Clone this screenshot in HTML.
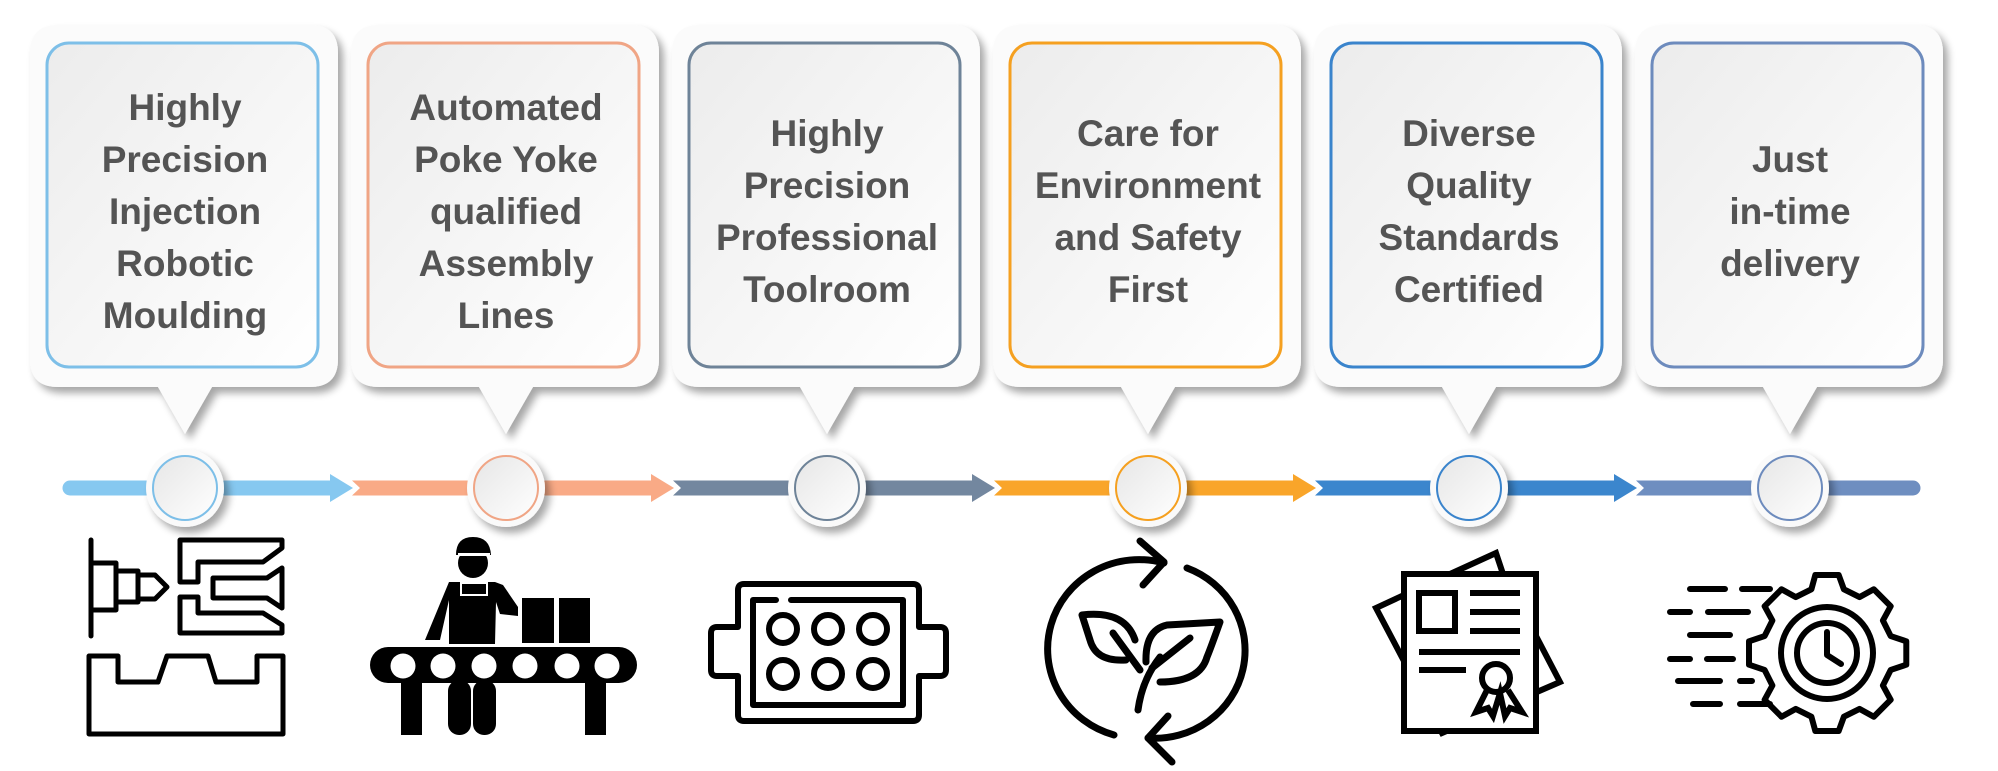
<!DOCTYPE html>
<html><head><meta charset="utf-8"><style>
html,body{margin:0;padding:0;background:#fff;}
svg{display:block}
text{font-family:"Liberation Sans",Arial,sans-serif;font-weight:bold;font-size:37px;fill:#545454;text-anchor:middle}
</style></head><body>
<svg width="1998" height="771" viewBox="0 0 1998 771" xmlns="http://www.w3.org/2000/svg">
<defs>
<filter id="sh" x="-10%" y="-10%" width="130%" height="130%">
<feGaussianBlur in="SourceAlpha" stdDeviation="4"/><feOffset dx="5" dy="6"/>
<feComponentTransfer><feFuncA type="linear" slope="0.35"/></feComponentTransfer>
<feMerge><feMergeNode/><feMergeNode in="SourceGraphic"/></feMerge></filter>
<linearGradient id="g" x1="0" y1="0" x2="1" y2="1"><stop offset="0" stop-color="#ececec"/><stop offset="1" stop-color="#ffffff"/></linearGradient>
<linearGradient id="gc" x1="0" y1="0" x2="1" y2="1"><stop offset="0" stop-color="#e6e6e6"/><stop offset="1" stop-color="#ffffff"/></linearGradient>
<g id="card">
<path d="M58 25 H310 Q338 25 338 53 V359 Q338 387 310 387 H212 L185 434 L158 387 H58 Q30 387 30 359 V53 Q30 25 58 25 Z" fill="#fbfbfb" filter="url(#sh)"/>
</g>
</defs>

<!-- cards -->
<g><use href="#card"/><rect x="47" y="43" width="271" height="324" rx="22" fill="url(#g)" stroke="#7dbfe8" stroke-width="3"/></g>
<g transform="translate(321,0)"><use href="#card"/><rect x="47" y="43" width="271" height="324" rx="22" fill="url(#g)" stroke="#f0a585" stroke-width="3"/></g>
<g transform="translate(642,0)"><use href="#card"/><rect x="47" y="43" width="271" height="324" rx="22" fill="url(#g)" stroke="#6e8398" stroke-width="3"/></g>
<g transform="translate(963,0)"><use href="#card"/><rect x="47" y="43" width="271" height="324" rx="22" fill="url(#g)" stroke="#f5a020" stroke-width="3"/></g>
<g transform="translate(1284,0)"><use href="#card"/><rect x="47" y="43" width="271" height="324" rx="22" fill="url(#g)" stroke="#3a84cc" stroke-width="3"/></g>
<g transform="translate(1605,0)"><use href="#card"/><rect x="47" y="43" width="271" height="324" rx="22" fill="url(#g)" stroke="#6d8bbd" stroke-width="3"/></g>

<!-- texts -->
<text x="185" y="120">Highly</text><text x="185" y="172">Precision</text><text x="185" y="224">Injection</text><text x="185" y="276">Robotic</text><text x="185" y="328">Moulding</text>
<text x="506" y="120">Automated</text><text x="506" y="172">Poke Yoke</text><text x="506" y="224">qualified</text><text x="506" y="276">Assembly</text><text x="506" y="328">Lines</text>
<text x="827" y="146">Highly</text><text x="827" y="198">Precision</text><text x="827" y="250">Professional</text><text x="827" y="302">Toolroom</text>
<text x="1148" y="146">Care for</text><text x="1148" y="198">Environment</text><text x="1148" y="250">and Safety</text><text x="1148" y="302">First</text>
<text x="1469" y="146">Diverse</text><text x="1469" y="198">Quality</text><text x="1469" y="250">Standards</text><text x="1469" y="302">Certified</text>
<text x="1790" y="172">Just</text><text x="1790" y="224">in-time</text><text x="1790" y="276">delivery</text>

<!-- timeline -->
<line x1="70" y1="488" x2="335" y2="488" stroke="#86c8f0" stroke-width="15" stroke-linecap="round"/>
<polygon points="330,474 353,488 330,502" fill="#86c8f0"/>
<polygon points="352,480.5 656,480.5 656,495.5 352,495.5 360,488" fill="#f9aa86"/>
<polygon points="651,474 674,488 651,502" fill="#f9aa86"/>
<polygon points="673,480.5 977,480.5 977,495.5 673,495.5 681,488" fill="#73879f"/>
<polygon points="972,474 995,488 972,502" fill="#73879f"/>
<polygon points="994,480.5 1298,480.5 1298,495.5 994,495.5 1002,488" fill="#f9a52a"/>
<polygon points="1293,474 1316,488 1293,502" fill="#f9a52a"/>
<polygon points="1315,480.5 1619,480.5 1619,495.5 1315,495.5 1323,488" fill="#3b86cd"/>
<polygon points="1614,474 1637,488 1614,502" fill="#3b86cd"/>
<polygon points="1636,480.5 1913,480.5 1913,495.5 1636,495.5 1644,488" fill="#6e8ec0"/>
<circle cx="1913" cy="488" r="7.5" fill="#6e8ec0"/>

<!-- markers -->
<g filter="url(#sh)">
<circle cx="185" cy="488" r="39" fill="#fafafa"/><circle cx="506" cy="488" r="39" fill="#fafafa"/><circle cx="827" cy="488" r="39" fill="#fafafa"/>
<circle cx="1148" cy="488" r="39" fill="#fafafa"/><circle cx="1469" cy="488" r="39" fill="#fafafa"/><circle cx="1790" cy="488" r="39" fill="#fafafa"/>
</g>
<g fill="url(#gc)" stroke-width="2">
<circle cx="185" cy="488" r="32" stroke="#7dbfe8"/><circle cx="506" cy="488" r="32" stroke="#f0a585"/><circle cx="827" cy="488" r="32" stroke="#6e8398"/>
<circle cx="1148" cy="488" r="32" stroke="#f5a020"/><circle cx="1469" cy="488" r="32" stroke="#3a84cc"/><circle cx="1790" cy="488" r="32" stroke="#6d8bbd"/>
</g>

<!-- icon 1 -->
<g fill="none" stroke="#000" stroke-width="5" stroke-linejoin="round" stroke-linecap="round">
<line x1="91" y1="540" x2="91" y2="636"/>
<rect x="91" y="563" width="25" height="47"/>
<rect x="116" y="571" width="22" height="31"/>
<path d="M138 575 L155 575 L167 587 L155 599 L138 599"/>
<path d="M180 540 L282 540 L282 548 L263 562 L198 562 L198 582 L180 582 Z"/>
<path d="M213 578 L267 578 L282 568 L282 608 L267 598 L213 598 Z"/>
<path d="M180 597 L198 597 L198 613 L263 613 L282 625 L282 633 L180 633 Z"/>
<path d="M89 656 H118 V682 H158 L167 656 H208 L216 682 H257 V656 H283 V734 H89 Z"/>
</g>

<!-- icon 2 -->
<g fill="#000">
<rect x="370" y="647" width="267" height="36" rx="18"/>
<rect x="401" y="680" width="21" height="55"/><rect x="585" y="680" width="21" height="55"/>
<rect x="448" y="680" width="23" height="55" rx="11"/><rect x="473" y="680" width="23" height="55" rx="11"/>
<path d="M449 582 L495 582 L503 585 L518 607 L518 616 L500 614 L496 602 L495 644 L449 644 L449 600 L440 640 L425 640 Z"/>
<rect x="522" y="598" width="32" height="45"/><rect x="559" y="598" width="31" height="45"/>
<circle cx="473" cy="563" r="15"/>
<path d="M456 555 Q456 537 473 537 Q490 537 491 555 Z"/>
</g>
<rect x="458" y="553" width="32" height="3" fill="#fff"/>
<rect x="461" y="583" width="26" height="12" fill="none" stroke="#fff" stroke-width="2"/>
<g fill="#fff"><circle cx="403" cy="666" r="12.5"/><circle cx="443" cy="666" r="12.5"/><circle cx="484" cy="666" r="12.5"/><circle cx="525" cy="666" r="12.5"/><circle cx="567" cy="666" r="12.5"/><circle cx="607" cy="666" r="12.5"/></g>

<!-- icon 3 -->
<g fill="none" stroke="#000" stroke-width="6" stroke-linejoin="round" stroke-linecap="round">
<path d="M744 584 H913 Q919 584 919 590 V627 H940 Q946 627 946 633 V670 Q946 676 940 676 H919 V715 Q919 721 913 721 H744 Q738 721 738 715 V676 H717 Q711 676 711 670 V633 Q711 627 717 627 H738 V590 Q738 584 744 584 Z"/>
<path d="M776 600 H753 V705 H903 V600 H791"/>
<circle cx="783" cy="629" r="14"/><circle cx="828" cy="629" r="14"/><circle cx="873" cy="629" r="14"/>
<circle cx="783" cy="674" r="14"/><circle cx="828" cy="674" r="14"/><circle cx="873" cy="674" r="14"/>
</g>

<!-- icon 4 -->
<g fill="none" stroke="#000" stroke-width="7" stroke-linecap="round" stroke-linejoin="round">
<path d="M1114 735 A90 88 0 0 1 1164 563"/>
<path d="M1140 541 L1164 562 L1143 585"/>
<path d="M1187 568 A90 88 0 0 1 1148 738"/>
<path d="M1172 762 L1148 738 L1168 716"/>
<path d="M1138 710 Q1142 680 1160 657"/>
<path d="M1126 660 Q1096 662 1090 640 L1082 615 Q1125 610 1135 640"/>
<path d="M1113 633 L1140 670"/>
<path d="M1146 662 Q1145 630 1167 625 L1220 622 Q1210 650 1207 657 Q1200 682 1160 682"/>
<path d="M1152 668 L1190 638"/>
</g>

<!-- icon 5 -->
<g fill="none" stroke="#000" stroke-width="6" stroke-linejoin="miter">
<path d="M1404 595 L1376 608 L1442 733 L1560 682 L1536 636 M1450 574 L1496 553 L1503 574"/>
<rect x="1404" y="574" width="132" height="157" fill="#fff"/>
<rect x="1419" y="593" width="36" height="38"/>
<path d="M1470 593 H1520 M1470 612 H1520 M1470 631 H1520 M1419 652 H1520 M1419 670 H1466"/>
<circle cx="1496" cy="678" r="14"/>
<path d="M1487 690 L1476 712 L1488 708 L1493 716 L1500 693 L1505 716 L1510 708 L1522 712 L1508 690"/>
</g>

<!-- icon 6 -->
<g fill="none" stroke="#000" stroke-width="6" stroke-linecap="round" stroke-linejoin="round">
<g transform="translate(1827,653) scale(1.3) translate(-1827,-623)" stroke-width="4.6">
<path d="M1815 574 L1818 563 L1836 563 L1840 574 L1852 580 L1863 574 L1876 587 L1870 598 L1876 610 L1888 614 L1888 632 L1876 636 L1870 648 L1876 659 L1863 672 L1852 666 L1840 672 L1836 683 L1818 683 L1815 672 L1803 666 L1792 672 L1779 659 L1785 648 L1779 636 L1767 632 L1767 614 L1779 610 L1785 598 L1779 587 L1792 574 L1803 580 Z" fill="#fff"/>
</g>
<circle cx="1827" cy="653" r="46"/>
<circle cx="1827" cy="653" r="30"/>
<path d="M1827 632 V655 L1841 664"/>
<path d="M1690 589 H1725 M1742 589 H1770 M1670 612 H1690 M1708 612 H1748 M1690 635 H1730 M1670 659 H1690 M1707 659 H1733 M1678 681 H1720 M1740 681 H1752 M1693 704 H1720 M1740 704 H1770"/>
</g>
</svg>
</body></html>
